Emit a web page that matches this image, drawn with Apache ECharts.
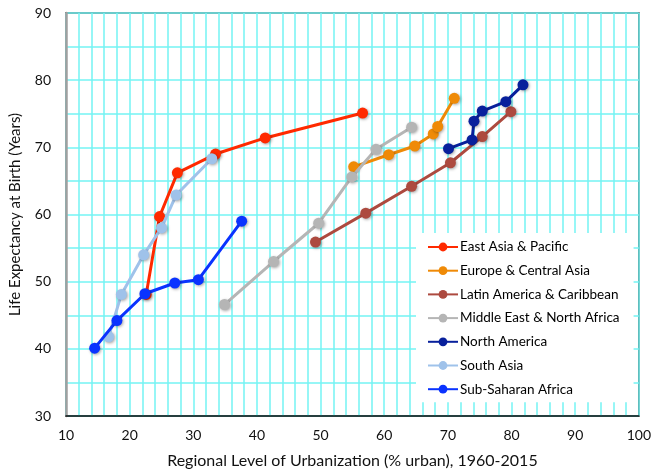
<!DOCTYPE html>
<html>
<head>
<meta charset="utf-8">
<script src="https://cdn.jsdelivr.net/npm/echarts@6/dist/echarts.min.js"></script>
<style>
html,body{margin:0;padding:0;background:#fff;}
#chart{width:654px;height:474px;}
</style>
</head>
<body>
<div id="chart"></div>
<script>
const regionNames = ['East Asia & Pacific','Europe & Central Asia','Latin America & Caribbean','Middle East & North Africa','North America','South Asia','Sub-Saharan Africa'];
const regionColors = ['#ff2a00','#ef8a07','#ad4a3f','#b5b5b5','#08209c','#9fc2ea','#0a33ff'];

const eastAsiaX = [22.6, 24.7, 27.5, 33.5, 41.3, 56.6];
const eastAsiaY = [48.1, 59.7, 66.2, 69.0, 71.4, 75.1];
const europeX = [55.2, 60.7, 64.8, 67.7, 68.4, 71.0];
const europeY = [67.1, 68.9, 70.2, 72.0, 73.1, 77.3];
const latinX = [49.2, 57.1, 64.3, 70.4, 75.4, 79.9];
const latinY = [55.9, 60.2, 64.2, 67.7, 71.6, 75.3];
const meX = [34.9, 42.6, 49.7, 54.9, 58.7, 64.3];
const meY = [46.6, 53.0, 58.7, 65.6, 69.7, 73.0];
const naX = [70.1, 73.8, 74.1, 75.4, 79.1, 81.8];
const naY = [69.8, 71.1, 73.9, 75.4, 76.8, 79.3];
const saX = [16.7, 18.7, 22.2, 25.0, 27.3, 32.9];
const saY = [41.8, 48.1, 54.0, 58.0, 62.9, 68.3];
const ssaX = [14.5, 18.0, 22.4, 27.1, 30.8, 37.6];
const ssaY = [40.1, 44.2, 48.2, 49.8, 50.3, 59.0];

const xs = [eastAsiaX, europeX, latinX, meX, naX, saX, ssaX];
const ys = [eastAsiaY, europeY, latinY, meY, naY, saY, ssaY];

const FONT = 'Lato';
const cyan = '#74f4f4';

const series = regionNames.map((name, i) => ({
  name: name,
  type: 'line',
  data: xs[i].map((x, j) => [x, ys[i][j]]),
  symbol: 'circle',
  symbolSize: 11,
  lineStyle: { width: 3, color: regionColors[i] },
  itemStyle: { color: regionColors[i], shadowBlur: 3, shadowColor: 'rgba(0,0,0,0.35)', shadowOffsetX: 1, shadowOffsetY: 1 },
  emphasis: { disabled: true },
  z: 3 + i
}));

const chart = echarts.init(document.getElementById('chart'), null, { renderer: 'canvas' });
chart.setOption({
  animation: false,
  backgroundColor: '#fff',
  textStyle: { fontFamily: FONT },
  grid: { left: 62, right: 11, top: 13, bottom: 56, show: true, borderColor: '#111', borderWidth: 1.5, backgroundColor: 'transparent' },
  legend: {
    orient: 'vertical',
    left: 416, top: 233,
    padding: [7, 14, 6, 11],
    backgroundColor: '#fff',
    itemWidth: 30, itemHeight: 11, itemGap: 9.7,
    textStyle: { fontFamily: FONT, fontSize: 13.5, color: '#000', lineHeight: 11, padding: [0,0,0,-3] },
    data: regionNames.map((n, i) => ({ name: n, itemStyle: { color: regionColors[i], shadowBlur: 0 } }))
  },
  xAxis: {
    type: 'value', min: 10, max: 100, interval: 10,
    name: 'Regional Level of Urbanization (% urban), 1960-2015',
    nameLocation: 'middle', nameGap: 37,
    nameTextStyle: { fontFamily: FONT, fontSize: 16, color: '#111' },
    axisLine: { show: true, onZero: false, lineStyle: { color: '#111', width: 1.5 } },
    axisTick: { show: false },
    axisLabel: { fontFamily: FONT, fontSize: 14, color: '#111', margin: 12 },
    splitLine: { show: true, lineStyle: { color: cyan, width: 1.5 } },
    minorTick: { show: false, splitNumber: 5 },
    minorSplitLine: { show: true, lineStyle: { color: cyan, width: 1.5 } }
  },
  yAxis: {
    type: 'value', min: 30, max: 90, interval: 10,
    name: 'Life Expectancy at Birth (Years)',
    nameLocation: 'middle', nameGap: 43,
    nameTextStyle: { fontFamily: FONT, fontSize: 15, color: '#111' },
    axisLine: { show: true, onZero: false, lineStyle: { color: '#a0a0a0', width: 2.5 } },
    axisTick: { show: false },
    axisLabel: { fontFamily: FONT, fontSize: 14, color: '#111', margin: 15 },
    splitLine: { show: true, lineStyle: { color: cyan, width: 1.5 } },
    minorTick: { show: false, splitNumber: 2 },
    minorSplitLine: { show: true, lineStyle: { color: cyan, width: 1.5 } }
  },
  series: series
});
</script>
</body>
</html>
